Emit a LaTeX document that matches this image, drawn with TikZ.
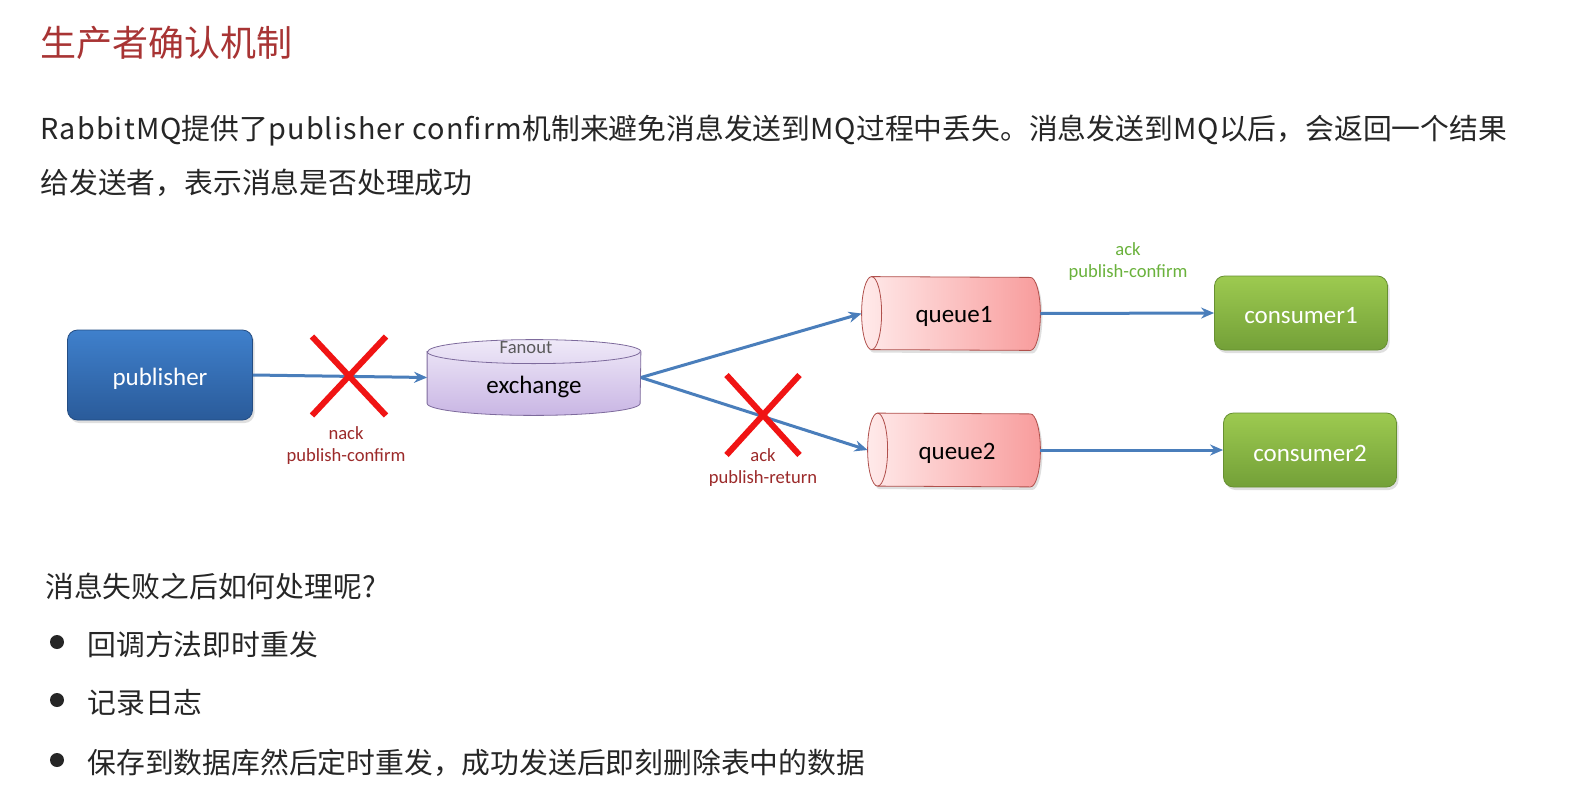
\documentclass[tikz,border=0pt]{standalone}
\usepackage{fontspec}
\setmainfont{Noto Sans CJK SC}
\newfontfamily\latinwide[LetterSpace=4]{Noto Sans CJK SC}
\newfontfamily\diafont{Carlito}
\usetikzlibrary{arrows.meta,shapes.misc,shadows}
\pgfdeclarelayer{back}
\pgfsetlayers{back,main}
\definecolor{TitleRed}{HTML}{A83434}
\definecolor{TextGray}{HTML}{262626}
\definecolor{FlowBlue}{HTML}{4A7EBB}
\definecolor{PubTop}{HTML}{3F80CC}
\definecolor{PubBottom}{HTML}{2A5B9A}
\definecolor{ExTop}{HTML}{EFE9F8}
\definecolor{ExBottom}{HTML}{C9B6E4}
\definecolor{ExLine}{HTML}{7D6A9C}
\definecolor{QueueLight}{HTML}{FFEAEA}
\definecolor{QueueDark}{HTML}{F89C9C}
\definecolor{QueueLine}{HTML}{B0504C}
\definecolor{ConsTop}{HTML}{9DCA50}
\definecolor{ConsBottom}{HTML}{73A038}
\definecolor{CrossRed}{HTML}{F01414}
\definecolor{NackRed}{HTML}{9C2A2A}
\definecolor{AckGreen}{HTML}{6AB23C}

\tikzset{
  bodytext/.style={anchor=west,inner sep=0pt,text=TextGray,font=\fontsize{14.4}{17}\selectfont},
  boxlabel/.style={font=\diafont\fontsize{12.5}{15}\selectfont},
  smalllabel/.style={font=\diafont\fontsize{9.3}{11}\selectfont,align=center,inner sep=0pt},
  softshadow/.style={drop shadow={opacity=0.25,shadow xshift=1pt,shadow yshift=-1.5pt}},
  pubbox/.style={boxlabel,rounded corners=5pt,minimum width=92.5pt,minimum height=45pt,
    top color=PubTop,bottom color=PubBottom,draw=PubBottom!85!black,text=white,softshadow},
  consbox/.style={boxlabel,rounded corners=5pt,minimum width=86.5pt,minimum height=37pt,
    top color=ConsTop,bottom color=ConsBottom,draw=ConsBottom!90!black,text=white,softshadow},
  drumbody/.style={boxlabel,inner sep=0pt},
  exdrum/.style={top color=ExTop,bottom color=ExBottom,draw=ExLine},
  queuedrum/.style={left color=QueueLight,right color=QueueDark,draw=QueueLine,softshadow},
  flow/.style={->,FlowBlue,line width=1.5pt},
  crossmark/.style={cross out,draw=CrossRed,line width=3pt,inner sep=0pt,
    minimum width=34pt,minimum height=36.5pt},
}

\begin{document}
\begin{tikzpicture}[>={Stealth[length=6.5pt,width=5.5pt]},x=0.5pt,y=-0.5pt]
  \useasboundingbox (0,0) rectangle (1574,798);

  \node[anchor=west,inner sep=0pt,text=TitleRed,font=\fontsize{18}{21}\selectfont] (title) at (40,43) {生产者确认机制};
  \node[bodytext] (intro1) at (40,131) {{\latinwide RabbitMQ}提供了{\latinwide publisher confirm}机制来避免消息发送到{\latinwide MQ}过程中丢失。消息发送到{\latinwide MQ}以后，会返回一个结果};
  \node[bodytext] (intro2) at (40,183) {给发送者，表示消息是否处理成功};

  % diagram
  \node[pubbox] (publisher) at (160,375) {\raisebox{-2pt}[\height][\depth]{publisher}};
  \node[drumbody,minimum width=106.5pt,minimum height=37.5pt] (exchange) at (534,377.5) {\raisebox{-4.5pt}[\height][\depth]{exchange}};
  \node[smalllabel,text=black!65] (fanout) at (526,348) {Fanout};
  \node[drumbody,minimum width=89pt,minimum height=36.5pt] (queue1) at (951,313.5) {\raisebox{-1.5pt}[\height][\depth]{\hspace{3pt}queue1}};
  \node[drumbody,minimum width=86pt,minimum height=36.5pt] (queue2) at (954,450) {\raisebox{-1.5pt}[\height][\depth]{\hspace{3pt}queue2}};
  \node[consbox] (consumer1) at (1301,313) {\raisebox{-1.5pt}[\height][\depth]{consumer1}};
  \node[consbox] (consumer2) at (1310,450) {\raisebox{-1.5pt}[\height][\depth]{consumer2}};

  \begin{pgfonlayer}{back}
    \fill[white] (0,0) rectangle (1574,798);
    % drums behind the labels
    \path[exdrum] ([yshift=-6pt]exchange.north west) -- ([yshift=6pt]exchange.south west)
      arc[start angle=180,end angle=360,x radius=53.25pt,y radius=6pt]
      -- ([yshift=-6pt]exchange.north east)
      arc[start angle=0,end angle=180,x radius=53.25pt,y radius=6pt] -- cycle;
    \draw[ExLine] ([yshift=-6pt]exchange.north west)
      arc[start angle=180,end angle=360,x radius=53.25pt,y radius=6pt];
    \path[queuedrum] ([xshift=5pt]queue1.north west)
      arc[start angle=90,end angle=270,x radius=5pt,y radius=18.25pt]
      -- ([xshift=-5pt]queue1.south east)
      arc[start angle=-90,end angle=90,x radius=5pt,y radius=18.25pt] -- cycle;
    \draw[QueueLine] ([xshift=5pt]queue1.north west)
      arc[start angle=90,end angle=-90,x radius=5pt,y radius=18.25pt];
    \path[queuedrum] ([xshift=5pt]queue2.north west)
      arc[start angle=90,end angle=270,x radius=5pt,y radius=18.25pt]
      -- ([xshift=-5pt]queue2.south east)
      arc[start angle=-90,end angle=90,x radius=5pt,y radius=18.25pt] -- cycle;
    \draw[QueueLine] ([xshift=5pt]queue2.north west)
      arc[start angle=90,end angle=-90,x radius=5pt,y radius=18.25pt];
  \end{pgfonlayer}

  \draw[flow] (publisher.east) -- (exchange.west);
  \draw[flow] (exchange.east) -- (queue1.west);
  \draw[flow] (exchange.east) -- (queue2.west);
  \draw[flow] (queue1.east) -- (consumer1.west);
  \draw[flow] (queue2.east) -- (consumer2.west);

  \node[crossmark] (nackcross) at (349,376) {};
  \node[crossmark,minimum width=33.5pt,minimum height=37pt] (ackcross) at (763,415) {};

  \node[smalllabel,text=NackRed] (nacklabel) at (346,446) {nack\\publish-confirm};
  \node[smalllabel,text=NackRed] (returnlabel) at (763,468) {ack\\publish-return};
  \node[smalllabel,text=AckGreen] (acklabel) at (1128,262) {ack\\publish-confirm};

  % what to do on failure
  \node[bodytext] (question) at (45,586) {消息失败之后如何处理呢?};
  \fill[TextGray] (57,642) circle (3.5pt);
  \fill[TextGray] (57,700) circle (3.5pt);
  \fill[TextGray] (57,760) circle (3.5pt);
  \node[bodytext] (retry) at (87,645) {回调方法即时重发};
  \node[bodytext] (logging) at (87,703) {记录日志};
  \node[bodytext] (storing) at (87,763) {保存到数据库然后定时重发，成功发送后即刻删除表中的数据};
\end{tikzpicture}
\end{document}
